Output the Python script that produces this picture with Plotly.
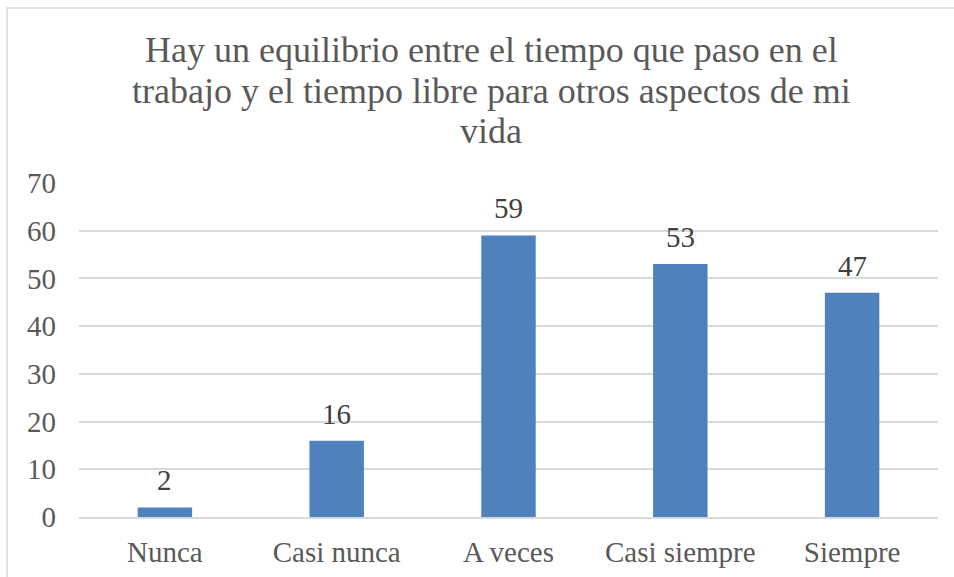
import plotly.graph_objects as go

categories = ["Nunca", "Casi nunca", "A veces", "Casi siempre", "Siempre"]
values = [2, 16, 59, 53, 47]
title_lines = ["Hay un equilibrio entre el tiempo que paso en el",
               "trabajo y el tiempo libre para otros aspectos de mi",
               "vida"]

FONT = "Liberation Serif"

fig = go.Figure(go.Bar(
    x=categories, y=values,
    marker=dict(color="#4F81BD", line=dict(width=0)),
    cliponaxis=False,
    hoverinfo="x+y",
))

W, H = 954, 577
ml, mr, mt, mb = 79, 16, 183, 60
pw, ph = W - ml - mr, H - mt - mb

annotations = []
# title lines (pixel centre positions converted to paper coords)
for line, yc in zip(title_lines, [50, 90.5, 131]):
    annotations.append(dict(text=line, xref="paper", yref="paper",
                            x=(491 - ml) / pw, xanchor="center",
                            y=1 + (mt - yc) / ph, yanchor="middle",
                            showarrow=False,
                            font=dict(family=FONT, size=36, color="#595959")))
# data labels
for c, v in zip(categories, values):
    annotations.append(dict(text=str(v), x=c, y=v, xref="x", yref="y",
                            yanchor="middle", yshift=27, showarrow=False,
                            font=dict(family=FONT, size=29, color="#404040")))

fig.update_layout(
    width=W, height=H,
    margin=dict(l=ml, r=mr, t=mt, b=mb, autoexpand=False),
    paper_bgcolor="white", plot_bgcolor="white",
    bargap=0.683,
    showlegend=False,
    annotations=annotations,
    xaxis=dict(showgrid=False, showline=True, linecolor="#d9d9d9", linewidth=1.5,
               tickfont=dict(family=FONT, size=29, color="#595959"),
               ticklabelstandoff=8, automargin=False),
    yaxis=dict(range=[0, 70], dtick=10, showgrid=True, gridcolor="#d9d9d9", gridwidth=1.5,
               zeroline=False, showline=False,
               tickfont=dict(family=FONT, size=29, color="#595959"),
               ticklabelstandoff=22, automargin=False),
    shapes=[dict(type="rect", xref="paper", yref="paper",
                 x0=(7 - ml) / pw, x1=1.1, y0=-0.5, y1=1 + (mt - 8) / ph,
                 line=dict(color="#d9d9d9", width=1.5), layer="below")],
)

fig.write_html("out.html")
